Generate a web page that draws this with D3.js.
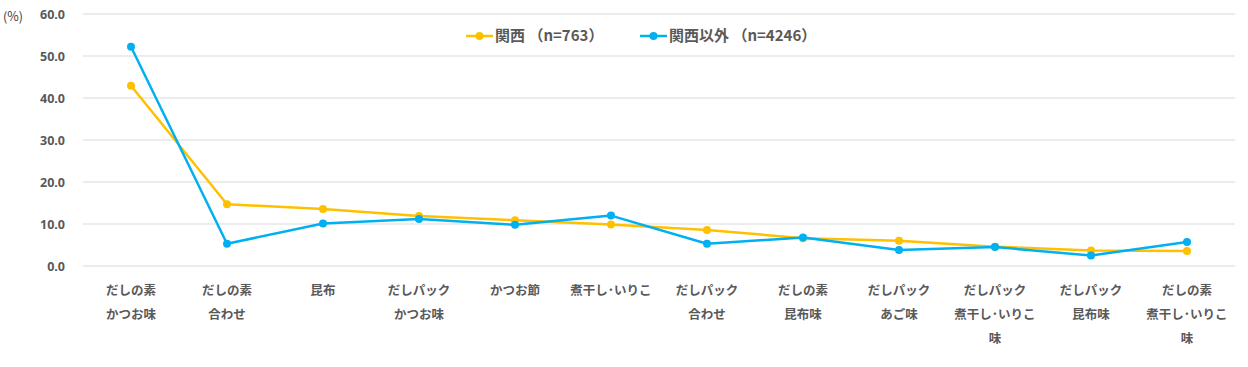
<!doctype html>
<html lang="ja">
<head>
<meta charset="utf-8">
<title>だしの利用</title>
<script src="https://cdn.jsdelivr.net/npm/d3@7/dist/d3.min.js"></script>
<style>
	body { margin: 0; background: #fff; }
	svg text { font-family: "Noto Sans CJK JP", "Noto Sans", sans-serif; fill: #595959; }
</style>
</head>
<body>
<svg id="chart" width="1248" height="367"></svg>
<script>
// categories (line breaks as in the picture)
var categories = [
	["だしの素", "かつお味"],
	["だしの素", "合わせ"],
	["昆布"],
	["だしパック", "かつお味"],
	["かつお節"],
	["煮干し･いりこ"],
	["だしパック", "合わせ"],
	["だしの素", "昆布味"],
	["だしパック", "あご味"],
	["だしパック", "煮干し･いりこ", "味"],
	["だしパック", "昆布味"],
	["だしの素", "煮干し･いりこ", "味"]
];
var kansai = [42.9, 14.7, 13.6, 11.9, 10.9, 9.9, 8.6, 6.6, 6.0, 4.6, 3.7, 3.6];
var other = [52.2, 5.3, 10.1, 11.2, 9.8, 12.0, 5.3, 6.8, 3.8, 4.5, 2.5, 5.7];
var yTicks = [0, 10, 20, 30, 40, 50, 60];
var seriesNames = ["関西 （n=763）", "関西以外 （n=4246）"];
var colors = ["#FFC000", "#00B0F0"];

var svg = d3.select("#chart");
var x = d3.scaleBand().domain(d3.range(categories.length)).range([83, 1235]);
var y = d3.scaleLinear().domain([0, 60]).range([266, 14]);

// grid
svg.append("g").selectAll("line").data(yTicks).enter().append("line")
	.attr("x1", 83).attr("x2", 1235)
	.attr("y1", function(d) { return y(d); })
	.attr("y2", function(d) { return y(d); })
	.attr("stroke", "#d9d9d9").attr("stroke-width", 1);

// y axis labels
var yAxis = d3.axisLeft(y).tickValues(yTicks).tickSize(0).tickPadding(0)
	.tickFormat(d3.format(".1f"));
var yG = svg.append("g").attr("transform", "translate(65,0)").call(yAxis);
yG.select(".domain").remove();
yG.selectAll("text").attr("font-size", 12.5).attr("font-weight", "bold")
	.style("font-family", "'Noto Sans', sans-serif").attr("fill", "#595959");

svg.append("text").attr("x", 3).attr("y", 21).attr("font-size", 12.5)
	.style("fill", "#404040").text("(%)");

// x labels
var xl = svg.append("g").selectAll("text").data(categories).enter().append("text")
	.attr("text-anchor", "middle").attr("font-size", 12.5).attr("font-weight", "bold")
	.attr("x", function(d, i) { return x(i) + x.bandwidth() / 2; })
	.attr("y", 295);
xl.selectAll("tspan").data(function(d) { return d; }).enter().append("tspan")
	.attr("x", function() { return d3.select(this.parentNode).attr("x"); })
	.attr("dy", function(d, j) { return j === 0 ? 0 : 24; })
	.text(function(d) { return d; });

// lines
var line = d3.line()
	.x(function(d, i) { return x(i) + x.bandwidth() / 2; })
	.y(function(d) { return y(d); });

[kansai, other].forEach(function(series, s) {
	svg.append("path").attr("d", line(series))
		.attr("fill", "none").attr("stroke", colors[s]).attr("stroke-width", 2.5)
		.attr("stroke-linejoin", "round");
	svg.append("g").selectAll("circle").data(series).enter().append("circle")
		.attr("cx", function(d, i) { return x(i) + x.bandwidth() / 2; })
		.attr("cy", function(d) { return y(d); })
		.attr("r", 4).attr("fill", colors[s]);
});

// legend
var legendX = [466, 640];
seriesNames.forEach(function(name, s) {
	var g = svg.append("g").attr("transform", "translate(" + legendX[s] + ",36)");
	g.append("line").attr("x1", 0).attr("x2", 27).attr("stroke", colors[s]).attr("stroke-width", 2.5);
	g.append("circle").attr("cx", 13.5).attr("r", 4).attr("fill", colors[s]);
	g.append("text").attr("x", 29).attr("y", 5).attr("font-size", 15).attr("font-weight", "bold").text(name);
});
</script>
</body>
</html>
